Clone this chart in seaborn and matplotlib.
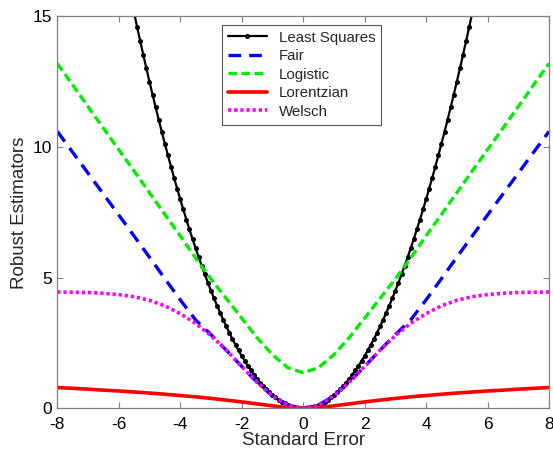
import numpy as np
import pandas as pd
import matplotlib
matplotlib.use("Agg")
import matplotlib.pyplot as plt
import seaborn as sns

# ---- data ----
ls_x = np.round(np.linspace(-5.6, 5.6, 113), 1)
ls_y = [15.68, 15.13, 14.58, 14.05, 13.52, 13.01, 12.5, 12.01, 11.52, 11.05, 10.58,
        10.13, 9.68, 9.25, 8.82, 8.41, 8.0, 7.61, 7.22, 6.85, 6.48,
        6.13, 5.78, 5.45, 5.12, 4.81, 4.5, 4.21, 3.92, 3.65, 3.38,
        3.13, 2.88, 2.65, 2.42, 2.21, 2.0, 1.81, 1.62, 1.45, 1.28,
        1.13, 0.98, 0.85, 0.72, 0.61, 0.5, 0.41, 0.32, 0.25, 0.18,
        0.13, 0.08, 0.05, 0.02, 0.01, 0.0,
        0.01, 0.02, 0.05, 0.08, 0.13, 0.18, 0.25, 0.32, 0.41, 0.5,
        0.61, 0.72, 0.85, 0.98, 1.13, 1.28, 1.45, 1.62, 1.81, 2.0,
        2.21, 2.42, 2.65, 2.88, 3.13, 3.38, 3.65, 3.92, 4.21, 4.5,
        4.81, 5.12, 5.45, 5.78, 6.13, 6.48, 6.85, 7.22, 7.61, 8.0,
        8.41, 8.82, 9.25, 9.68, 10.13, 10.58, 11.05, 11.52, 12.01, 12.5,
        13.01, 13.52, 14.05, 14.58, 15.13, 15.68]

x_half = [-8.0, -7.5, -7.0, -6.5, -6.0, -5.5, -5.0, -4.5, -4.0, -3.5, -3.0,
          -2.5, -2.0, -1.5, -1.0, -0.5, 0.0, 0.5, 1.0, 1.5, 2.0, 2.5,
          3.0, 3.5, 4.0, 4.5, 5.0, 5.5, 6.0, 6.5, 7.0, 7.5, 8.0]

fair_y = [10.6, 9.8, 9.0, 8.2, 7.4, 6.59, 5.78, 4.96, 4.15, 3.38, 2.82,
          2.22, 1.6, 0.99, 0.47, 0.12, 0.0, 0.12, 0.47, 0.99, 1.6, 2.22,
          2.82, 3.38, 4.15, 4.96, 5.78, 6.59, 7.4, 8.2, 9.0, 9.8, 10.6]

logistic_y = [13.2, 12.38, 11.55, 10.72, 9.9, 9.08, 8.25, 7.42, 6.6, 5.75, 4.95,
              4.2, 3.45, 2.7, 2.05, 1.55, 1.36, 1.55, 2.05, 2.7, 3.45, 4.2,
              4.95, 5.75, 6.6, 7.42, 8.25, 9.08, 9.9, 10.72, 11.55, 12.38, 13.2]

lorentz_y = [0.79, 0.76, 0.73, 0.69, 0.66, 0.62, 0.58, 0.535, 0.485, 0.435, 0.375,
             0.31, 0.24, 0.165, 0.09, 0.026, 0.0, 0.026, 0.09, 0.165, 0.24, 0.31,
             0.375, 0.435, 0.485, 0.535, 0.58, 0.62, 0.66, 0.69, 0.73, 0.76, 0.79]

welsch_y = [4.45, 4.44, 4.43, 4.4, 4.35, 4.27, 4.13, 3.92, 3.62, 3.25, 2.78,
            2.22, 1.6, 0.99, 0.47, 0.12, 0.0, 0.12, 0.47, 0.99, 1.6, 2.22,
            2.78, 3.25, 3.62, 3.92, 4.13, 4.27, 4.35, 4.4, 4.43, 4.44, 4.45]

x_ticks = [-8, -6, -4, -2, 0, 2, 4, 6, 8]
y_ticks = [0, 5, 10, 15]

# ---- style ----
sns.set_theme(style="white")
plt.rcParams['font.family'] = ['Liberation Sans', 'DejaVu Sans']

fig = plt.figure(figsize=(5.53, 4.54), dpi=100)
ax = fig.add_axes([0.1036, 0.1009, 0.8892, 0.8628])

sns.lineplot(x=ls_x, y=ls_y, ax=ax, color='black', lw=1.6, marker='o',
             markersize=3.6, markeredgewidth=0, label='Least Squares', sort=False)
sns.lineplot(x=x_half, y=fair_y, ax=ax, color='#0000ff', lw=2.4,
             dashes=False, label='Fair', sort=False)
sns.lineplot(x=x_half, y=logistic_y, ax=ax, color='#00ee00', lw=2.4,
             dashes=False, label='Logistic', sort=False)
sns.lineplot(x=x_half, y=lorentz_y, ax=ax, color='#ff0000', lw=2.6,
             dashes=False, label='Lorentzian', sort=False)
sns.lineplot(x=x_half, y=welsch_y, ax=ax, color='#ff00ff', lw=2.6,
             dashes=False, label='Welsch', sort=False)

lines = ax.get_lines()
lines[1].set_dashes((3.8, 2.4))
lines[2].set_dashes((2.6, 1.3))
lines[4].set_dashes((0.9, 0.8))

ax.set_xlim(-8, 8)
ax.set_ylim(0, 15)
ax.set_xticks(x_ticks)
ax.set_yticks(y_ticks)
ax.set_xticklabels([str(v) for v in x_ticks])
ax.set_yticklabels([str(v) for v in y_ticks])
ax.tick_params(direction='in', length=4, width=0.8, color='#808080',
               labelsize=12.5, labelcolor='black', top=True, right=True,
               bottom=True, left=True)
ax.tick_params(axis='x', pad=6)
ax.tick_params(axis='y', pad=4)
for s in ax.spines.values():
    s.set_color('#808080')
    s.set_linewidth(0.9)

ax.set_xlabel('Standard Error', fontsize=13.5, labelpad=0)
ax.set_ylabel('Robust Estimators', fontsize=13.5, labelpad=3)

leg = ax.legend(loc='upper left', bbox_to_anchor=(0.334, 0.979), frameon=True,
                fancybox=False, framealpha=1, edgecolor='#555555',
                fontsize=10.8, handlelength=2.6, handletextpad=0.8,
                borderpad=0.4, labelspacing=0.3, borderaxespad=0)
leg.get_frame().set_linewidth(0.8)

fig.savefig('out.png', dpi=100)
